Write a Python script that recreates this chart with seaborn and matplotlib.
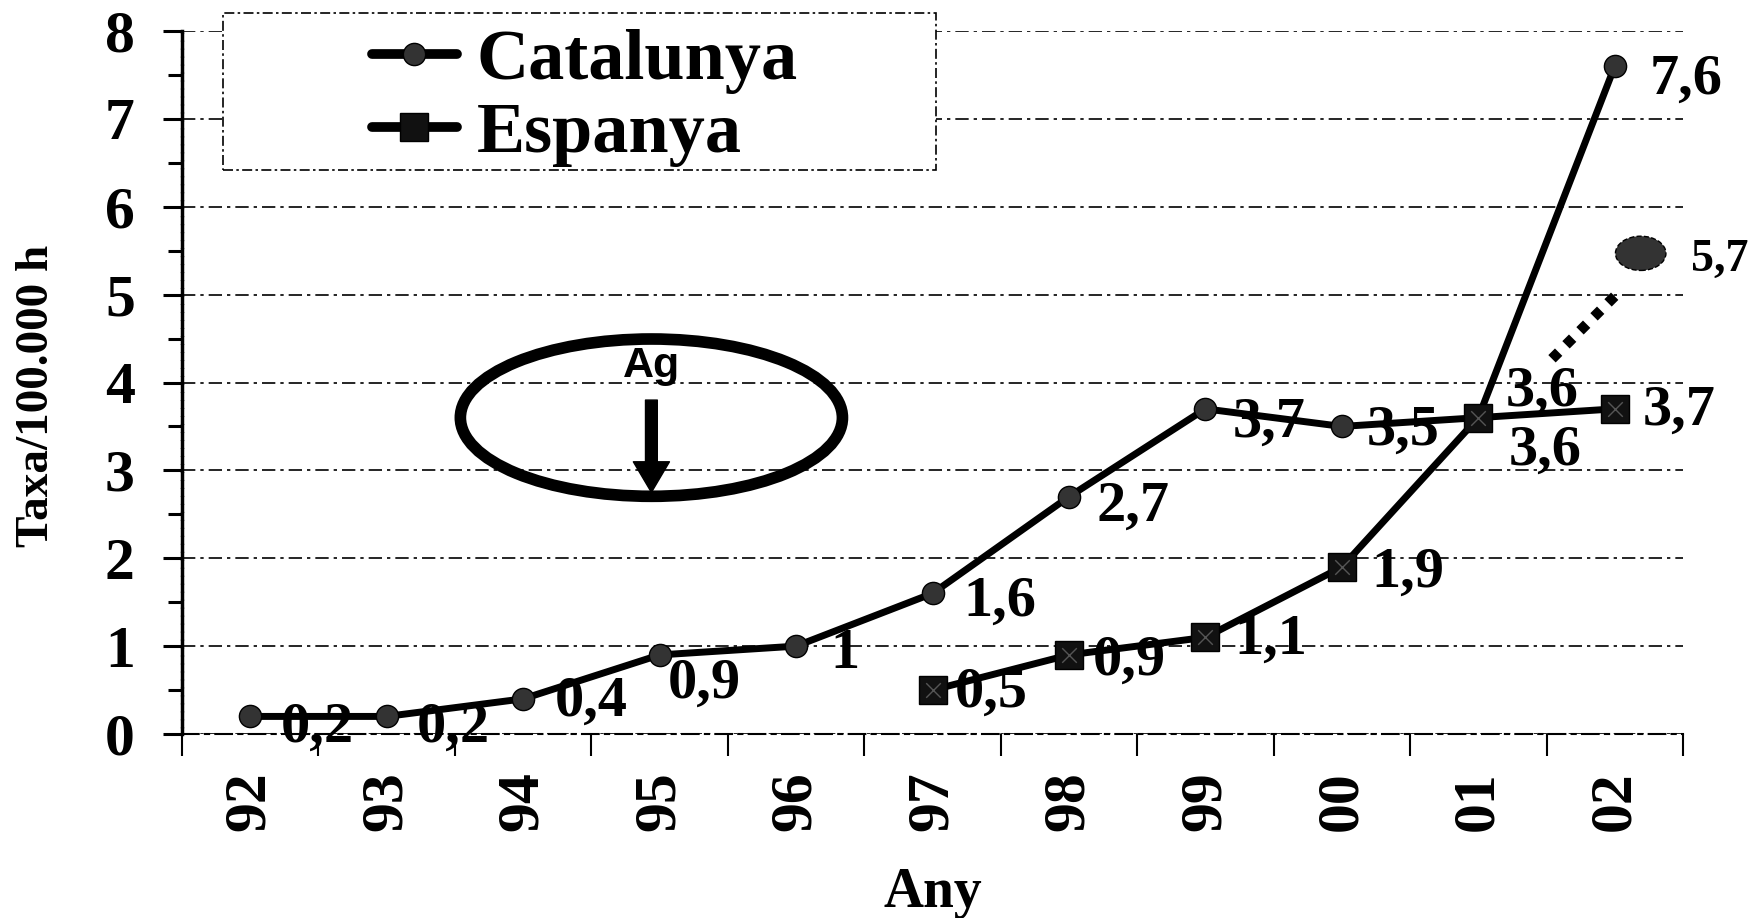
import numpy as np
import pandas as pd
import matplotlib
matplotlib.use("Agg")
import matplotlib.pyplot as plt
from matplotlib.patches import Ellipse, Rectangle
import seaborn as sns

# ---------------- data ----------------
years = ["92", "93", "94", "95", "96", "97", "98", "99", "00", "01", "02"]
catalunya = [0.2, 0.2, 0.4, 0.9, 1.0, 1.6, 2.7, 3.7, 3.5, 3.6, 7.6]
catalunya_labels = ["0,2", "0,2", "0,4", "0,9", "1", "1,6", "2,7", "3,7", "3,5", "3,6", "7,6"]
espanya_years = ["97", "98", "99", "00", "01", "02"]
espanya = [0.5, 0.9, 1.1, 1.9, 3.6, 3.7]
espanya_labels = ["0,5", "0,9", "1,1", "1,9", "3,6", "3,7"]
# projected value (dotted trend + big point), positions
projection_x = [9.54, 10.05]
projection_y = [4.27, 5.06]
projection_point = (10.19, 5.47)
projection_label = "5,7"
y_ticks = [0, 1, 2, 3, 4, 5, 6, 7, 8]
ag_text = "Ag"

# ---------------- style ----------------
sns.set_theme(style="white")
plt.rcParams["font.family"] = ["Liberation Serif", "DejaVu Serif"]
plt.rcParams["font.weight"] = "bold"
for k in ["text.color", "axes.labelcolor", "xtick.color", "ytick.color", "axes.edgecolor"]:
    plt.rcParams[k] = "black"

SERIF = "Liberation Serif"

fig = plt.figure(figsize=(17.51, 9.18), dpi=100)
ax = fig.add_axes([182 / 1751, 1 - 734 / 918, (1683 - 182) / 1751, (734 - 31) / 918])

pos = {y: i for i, y in enumerate(years)}
df_cat = pd.DataFrame({"x": [pos[y] for y in years], "y": catalunya})
df_esp = pd.DataFrame({"x": [pos[y] for y in espanya_years], "y": espanya})

sns.lineplot(data=df_cat, x="x", y="y", ax=ax, color="black", linewidth=5,
             marker="o", markersize=16, markerfacecolor="#333333",
             markeredgecolor="black", markeredgewidth=1.0, label="Catalunya", zorder=3)
sns.lineplot(data=df_esp, x="x", y="y", ax=ax, color="black", linewidth=5,
             marker="s", markersize=20, markerfacecolor="#111111",
             markeredgecolor="black", markeredgewidth=1.0, label="Espanya", zorder=3)
sns.scatterplot(data=df_esp, x="x", y="y", ax=ax, marker="x", color="#555555",
                s=110, linewidth=1.0, zorder=4, legend=False)

# data labels
cat_offsets = [(22, -8), (22, -8), (23, -2), (6, -21), (25, -6), (22, -6),
               (20, -7), (20, -10), (18, -3), (20, 19), (25, -10)]
esp_offsets = [(16, -2), (17, -4), (21, -2), (21, -4), (22, -24), (20, -1)]
for xv, yv, lab, off in zip(df_cat["x"], df_cat["y"], catalunya_labels, cat_offsets):
    ax.annotate(lab, (xv, yv), xytext=off, textcoords="offset points",
                ha="left", va="center", fontsize=42, fontweight="bold",
                family=SERIF, zorder=6)
for xv, yv, lab, off in zip(df_esp["x"], df_esp["y"], espanya_labels, esp_offsets):
    ax.annotate(lab, (xv, yv), xytext=off, textcoords="offset points",
                ha="left", va="center", fontsize=42, fontweight="bold",
                family=SERIF, zorder=6)

# projection
ax.plot(projection_x, projection_y, color="black", lw=7.5,
        linestyle=(0, (0.9, 1.0)), dash_capstyle="butt", zorder=3)
ax.add_patch(Ellipse(projection_point, 0.37, 0.39, facecolor="#333333",
                     edgecolor="black", lw=1.0, ls="--", zorder=4))
ax.annotate(projection_label, projection_point, xytext=(36, -5),
            textcoords="offset points", ha="left", va="center",
            fontsize=33, fontweight="bold", family=SERIF,
            annotation_clip=False)

# "Ag" ellipse annotation
ax.add_patch(Ellipse((2.94, 3.60), 2.80, 1.79, fill=False, edgecolor="black",
                     lw=8.4, zorder=4))
ax.text(2.94, 4.06, ag_text, ha="center", va="baseline", fontsize=31,
        fontweight="bold", family="Liberation Sans", zorder=5)
ax.annotate("", xy=(2.94, 2.75), xytext=(2.94, 3.80),
            arrowprops=dict(width=8.5, headwidth=26, headlength=22,
                            facecolor="black", edgecolor="black", shrink=0.0),
            zorder=5)

# axes
ax.set_xlim(-0.5, 10.5)
ax.set_ylim(0, 8)
ax.set_xticks(range(len(years)))
ax.set_xticklabels(years, rotation=90, fontsize=43, fontweight="bold", family=SERIF)
ax.set_xticks(np.arange(-0.5, len(years), 1.0), minor=True)
ax.set_yticks(y_ticks)
ax.set_yticklabels([str(v) for v in y_ticks], fontsize=43, fontweight="bold", family=SERIF)
ax.set_yticks(np.arange(0.5, 8, 1.0), minor=True)
ax.tick_params(axis="x", which="major", length=0, pad=27)
ax.tick_params(axis="x", which="minor", length=16, width=1.5, direction="out",
               bottom=True)
ax.tick_params(axis="y", which="major", length=14, width=2.2, direction="out",
               left=True, pad=20)
ax.tick_params(axis="y", which="minor", length=10, width=2.2, direction="out",
               left=True)

ax.yaxis.grid(True, which="major", color="black", lw=1.2, linestyle=(0, (8, 3, 2, 3)))
ax.xaxis.grid(False)
ax.set_axisbelow(True)
for s in ["top", "right"]:
    ax.spines[s].set_visible(False)
ax.spines["left"].set_linewidth(2.5)
ax.spines["left"].set_linestyle((0, (1.5, 0.8)))
ax.spines["bottom"].set_linewidth(1.5)
ax.spines["bottom"].set_linestyle((0, (8, 3, 2, 3)))

ax.set_xlabel("Any", fontsize=40, fontweight="bold", family=SERIF)
ax.xaxis.set_label_coords(0.5, -0.226)
ax.xaxis.label.set_va("center")
ax.set_ylabel("Taxa/100.000 h", fontsize=34, fontweight="bold", family=SERIF)
ax.yaxis.set_label_coords(-0.0966, 0.481)
ax.yaxis.label.set_va("center")

# legend with dash-dot frame box
box = Rectangle((223 / 1751, 1 - 170 / 918), (936 - 223) / 1751, (170 - 13) / 918,
                transform=fig.transFigure, facecolor="white", edgecolor="black",
                lw=1.2, linestyle=(0, (6, 2, 1.5, 2)), clip_on=False, zorder=7)
ax.add_patch(box)
leg = ax.legend(loc="center", bbox_to_anchor=(585 / 1751, 1 - 98 / 918),
                bbox_transform=fig.transFigure, frameon=False,
                prop={"family": SERIF, "weight": "bold", "size": 52},
                handlelength=1.17, handletextpad=0.28, labelspacing=0.1,
                borderpad=0.0, markerscale=1.0)
leg.set_zorder(8)
for line in leg.get_lines():
    line.set_linewidth(7)

fig.savefig("out.png", dpi=100)
